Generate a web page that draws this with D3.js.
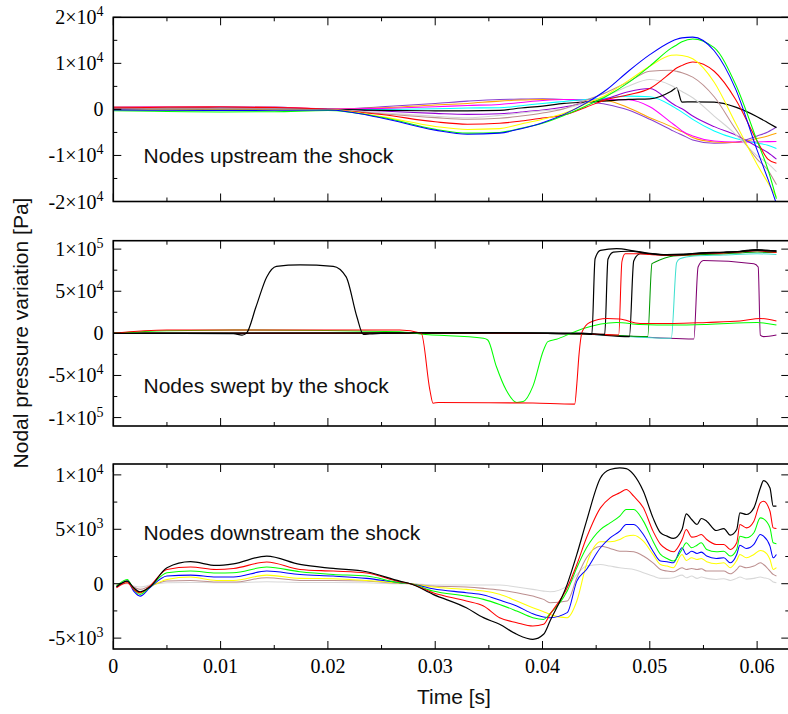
<!DOCTYPE html>
<html><head><meta charset="utf-8">
<script src="https://cdn.jsdelivr.net/npm/d3@7"></script>
<style>body{margin:0;background:#fff}svg{display:block}
.serif{font-family:"Liberation Serif","Times New Roman",Times,serif}
.sans{font-family:"Liberation Sans",Arial,Helvetica,sans-serif}</style>
</head><body>
<svg id="c" width="788" height="714"></svg>
<script>
// ---------- shared ----------
const xTickValues = [0, 0.005, 0.01, 0.015, 0.02, 0.025, 0.03, 0.035, 0.04, 0.045, 0.05, 0.055, 0.06];
const xTickLabels = ["0", "0.01", "0.02", "0.03", "0.04", "0.05", "0.06"];
const xLabelValues = [0, 0.01, 0.02, 0.03, 0.04, 0.05, 0.06];

// ---------- panel 1 : upstream ----------
const upTicks = [-20000, -10000, 0, 10000, 20000];
const tTop = [0, 0.005, 0.01, 0.015, 0.02, 0.025, 0.03, 0.033, 0.036, 0.038, 0.040, 0.042, 0.044, 0.046, 0.048, 0.050, 0.052, 0.0525, 0.053, 0.054, 0.056, 0.058, 0.060, 0.061, 0.0618];
const upMediumPurple = [500, 550, 600, 500, 0, 580, 1300, 1800, 2160, 2230, 2300, 2160, 1730, 1080, -140, -2160, -4460, -5040, -5540, -6620, -7340, -7130, -5760, -4900, -3820];
const upOrange = [500, 550, 550, 450, 100, 360, 940, 1300, 1800, 2020, 2160, 2160, 2090, 1870, 360, -1800, -3740, -4320, -4820, -6120, -7060, -7200, -6340, -5760, -5180];
const upMagenta = [450, 500, 500, 450, 100, 220, 580, 860, 1080, 1510, 1940, 2160, 2160, 2160, 2090, 580, -2880, -3740, -4680, -5760, -6840, -7060, -7060, -7000, -6980];
const upCyan = [300, 350, 350, 300, 0, 0, 140, 300, 360, 790, 1300, 1730, 2160, 2450, 2880, 2740, 860, 140, -580, -2160, -4680, -6340, -7340, -7780, -8500];
const upDarkViolet = [150, 200, 250, 150, 0, -360, -860, -1080, -930, -580, -140, 500, 1440, 2380, 3820, 4530, 1440, 720, 140, -1440, -3740, -5540, -8060, -9360, -10800];
const upBlack = [0, 50, 0, 0, 0, -200, -300, -300, -200, 300, 720, 1300, 1580, 1870, 2160, 2300, 3960, 4680, 1580, 1650, 1580, 500, -1580, -2880, -3960];
const upGray = [50, 100, 100, 100, 0, -720, -1500, -1800, -1300, -790, -290, 140, 1440, 3020, 5040, 6480, 5180, 4530, 3880, 2520, -1440, -5400, -10080, -11740, -13540];
const upBrown = [100, 150, 150, 100, 0, -930, -1790, -2140, -1940, -1440, -790, 140, 1940, 3740, 5980, 8280, 8500, 8270, 7980, 7000, 2740, -4320, -10800, -13180, -16340];
const upRed = [350, 450, 500, 400, 0, -1100, -2700, -3210, -3020, -2520, -1870, -1220, 430, 2160, 3170, 4540, 8060, 8990, 9560, 10300, 8280, 2160, -6840, -10800, -11700];
const upYellow = [-100, -150, -200, -150, -70, -1570, -3700, -4350, -4170, -3170, -2160, -860, 1150, 3240, 6260, 9360, 11740, 11800, 11720, 11000, 5900, -3020, -11950, -15900, -18940];
const upGreen = [-300, -450, -550, -500, -250, -1700, -4300, -5150, -5000, -4100, -3000, -1300, 700, 2900, 5800, 9400, 13300, 14000, 14700, 15300, 13400, 5400, -6830, -13000, -19400];
const upBlue = [-100, -200, -250, -200, -150, -1860, -4500, -5400, -5150, -4180, -2880, -1080, 1300, 4320, 8280, 11880, 14760, 15240, 15530, 15700, 12730, 4400, -8840, -15100, -20500];

// ---------- panel 2 : swept (each series: [time, value] points) ----------
const swTicks = [-100000, -50000, 0, 50000, 100000];
const swPurple = [[0,0],[0.035,300],[0.044,-1000],[0.0541,-6700],[0.0545,78800],[0.055,86600],[0.0597,82700],[0.0601,78800],[0.0603,-2000],[0.0606,-3900],[0.0618,-2000]];
const swCyan = [[0,0],[0.035,300],[0.044,-1000],[0.052,-5900],[0.0525,84000],[0.0528,88600],[0.0541,91800],[0.0569,93000],[0.06,94500],[0.0618,93500]];
const swDarkGreen = [[0,0],[0.035,300],[0.044,-800],[0.0498,-3900],[0.0502,82700],[0.0505,84700],[0.0522,91800],[0.0547,93500],[0.0569,94500],[0.0584,95500],[0.06,96500],[0.0618,96000]];
const swBlackC = [[0,0],[0.035,300],[0.044,-800],[0.0481,-3900],[0.0485,86000],[0.0491,94500],[0.05,94500],[0.0516,93000],[0.0531,93500],[0.0547,95000],[0.0569,96000],[0.0584,97000],[0.06,99000],[0.0609,98500],[0.0618,97500]];
const swRedB = [[0,0],[0.035,300],[0.044,-500],[0.0471,-2000],[0.0474,85000],[0.0477,94500],[0.049,94500],[0.05,93500],[0.0516,92500],[0.0531,93000],[0.0547,94500],[0.0569,95500],[0.0584,96500],[0.06,98000],[0.0609,97000],[0.0618,96000]];
const swBlackB = [[0,0],[0.035,500],[0.044,0],[0.0458,-1200],[0.0461,88000],[0.0466,96500],[0.048,97500],[0.05,94500],[0.0516,93000],[0.0531,93500],[0.0547,95000],[0.0569,96000],[0.0584,97000],[0.06,98500],[0.0609,98000],[0.0618,97500]];
const swGreenA = [[0,0],[0.005,3150],[0.0127,3900],[0.0267,2000],[0.0286,-800],[0.0345,-5900],[0.0349,-7900],[0.0357,-39400],[0.0366,-67000],[0.0376,-82000],[0.0382,-81000],[0.0391,-63000],[0.0401,-19700],[0.0405,-9850],[0.0413,-7000],[0.0429,1400],[0.0438,5700],[0.0469,13000],[0.0491,10600],[0.0522,9850],[0.0553,10600],[0.06,13000],[0.0618,9850]];
const swRedA = [[0,0],[0.005,3900],[0.0267,3900],[0.0287,0],[0.0295,-67000],[0.0298,-83000],[0.0303,-82000],[0.035,-82300],[0.0391,-82800],[0.043,-84000],[0.0432,-60000],[0.0434,-25600],[0.0437,2000],[0.0444,13000],[0.046,17700],[0.0472,17000],[0.0491,11800],[0.0522,11800],[0.0553,13000],[0.0584,14600],[0.0603,17700],[0.0618,14600]];
const swBlackA = [[0,0],[0.0112,-300],[0.012,-2000],[0.0124,0],[0.0133,31500],[0.0143,67000],[0.0152,79600],[0.0174,81200],[0.0205,79600],[0.0217,67000],[0.0227,19700],[0.0233,-1200],[0.0239,-800],[0.0267,500],[0.035,800],[0.0438,0],[0.0446,-1200],[0.0449,88600],[0.0454,98500],[0.0469,100500],[0.0485,98000],[0.05,95000],[0.0516,93500],[0.0531,94000],[0.0547,95500],[0.0569,96500],[0.0584,97500],[0.06,99500],[0.0609,98500],[0.0618,98000]];

// ---------- panel 3 : downstream ----------
const dnTicks = [-5000, 0, 5000, 10000];
const tBot = [0.0003, 0.0013, 0.0019, 0.0025, 0.0034, 0.005, 0.0072, 0.0096, 0.0112, 0.0143, 0.0174, 0.0205, 0.0236, 0.0267, 0.0277, 0.0298, 0.0329, 0.0345,
  0.036, 0.0376, 0.0391, 0.0401, 0.0407, 0.0423, 0.0432, 0.0441, 0.0454, 0.0463, 0.0472, 0.0478, 0.0485, 0.0494, 0.0503, 0.051, 0.0516, 0.0522, 0.053, 0.0534, 0.0539, 0.0544, 0.0548, 0.0553, 0.0562, 0.0569, 0.0575, 0.0581, 0.0584, 0.059, 0.0597, 0.0603, 0.0606, 0.0612, 0.0615, 0.0618];
const dnGray = [-60, 0, -220, -310, -120, 90, 120, 90, 90, 180, 120, 120, 90, 0, 0, -120, -120, -120,
  -120, -310, -520, -680, -740, -220, 850, 1620, 1770, 1620, 1470, 1400, 1310, 1010, 700, 490, 490, 550, 790, 550, 700, 490, 610, 490, 390, 460, 300, 490, 610, 420, 490, 610, 550, 390, 150, 90];
const dnBrown = [-120, 90, -310, -520, -220, 240, 300, 150, 150, 550, 300, 300, 240, 30, 0, -220, -310, -430,
  -580, -830, -1140, -1440, -1750, -1590, 550, 2380, 3450, 3240, 2990, 2990, 2930, 2540, 1920, 1310, 1160, 1100, 1470, 1310, 1400, 1310, 1370, 1160, 1160, 1160, 910, 1310, 1620, 1470, 1620, 1920, 1770, 1160, 850, 700];
const dnYellow = [-220, 180, -520, -830, -310, 390, 610, 300, 300, 790, 490, 460, 300, 60, 0, -310, -520, -680,
  -980, -1590, -2210, -2570, -2820, -3120, -1590, 1770, 3850, 3850, 4060, 4370, 4460, 3910, 2690, 1770, 1620, 1470, 2690, 2140, 2380, 2230, 2320, 2020, 1830, 1920, 1470, 2140, 2690, 2380, 2690, 3060, 2990, 2230, 1310, 1470];
const dnBlue = [-310, 240, -680, -1140, -370, 700, 790, 610, 610, 1160, 850, 700, 490, 90, 0, -460, -830, -1040,
  -1500, -2050, -2760, -3060, -3120, -2660, 240, 1310, 3300, 4220, 4830, 5440, 5440, 4520, 2990, 2080, 2020, 1920, 3300, 2690, 2990, 2780, 2900, 2540, 2320, 2380, 1920, 2690, 3540, 3240, 3610, 4520, 4370, 3450, 2380, 2690];
const dnGreen = [-220, 390, -520, -980, -310, 1010, 1160, 980, 1010, 1530, 1100, 850, 700, 90, 0, -680, -1140, -1440,
  -1900, -2510, -3120, -3280, -2760, -680, 1470, 3300, 4980, 5590, 6210, 6820, 6820, 5750, 3910, 2690, 2320, 2080, 3150, 3760, 3300, 3540, 3760, 3150, 2930, 2990, 2540, 3150, 4370, 4220, 4680, 6050, 5960, 5130, 3760, 3670];
const dnRed = [-370, 90, -520, -830, -220, 1310, 1530, 1310, 1400, 1990, 1310, 1160, 980, 180, 0, -830, -1590, -2050,
  -3120, -3580, -3890, -3730, -2820, -370, 1770, 4220, 6970, 7890, 8350, 8650, 8040, 6970, 4830, 3610, 3150, 2930, 4030, 4980, 4280, 4370, 4520, 4060, 3610, 3610, 3150, 3760, 5440, 5130, 5750, 7430, 7580, 6660, 5130, 5070];
const dnBlack = [-280, 240, -370, -740, -310, 1470, 2020, 1680, 1830, 2540, 1770, 1400, 1100, 240, 0, -980, -2210, -3120,
  -3730, -4650, -5110, -4650, -3430, -60, 2690, 5750, 9720, 10490, 10640, 10580, 10030, 8500, 6050, 4680, 4370, 4160, 4980, 6420, 5900, 5440, 5990, 5750, 4890, 5070, 4460, 4980, 6510, 6360, 6970, 8800, 9480, 8800, 7120, 7120];

// ---------- build ----------
const zip = (t, v) => t.map((d, i) => [d, v[i]]);
const panels = [
  { top: 17.3, bottom: 201.5, domain: [-20000, 20000], minorStep: 5000, ticks: upTicks,
    label: "Nodes upstream the shock", labelY: 162.5,
    series: [
      [zip(tTop, upMediumPurple), "#8a3fd0"], [zip(tTop, upOrange), "#ffa500"], [zip(tTop, upMagenta), "#ff00ff"],
      [zip(tTop, upCyan), "#00ffff"], [zip(tTop, upDarkViolet), "#9400d3"], [zip(tTop, upBlack), "#000000"],
      [zip(tTop, upGray), "#d3d3d3"], [zip(tTop, upBrown), "#bc8f8f"], [zip(tTop, upRed), "#ff0000"],
      [zip(tTop, upYellow), "#ffff00"], [zip(tTop, upGreen), "#00ff00"], [zip(tTop, upBlue), "#0000ff"]
    ] },
  { top: 240.7, bottom: 426, domain: [-110000, 110000], minorStep: 25000, ticks: swTicks,
    label: "Nodes swept by the shock", labelY: 393,
    series: [
      [swPurple, "#800070"], [swCyan, "#40e0d0"], [swDarkGreen, "#009900"], [swBlackC, "#000000"],
      [swRedB, "#ff0000"], [swBlackB, "#000000"], [swGreenA, "#00ff00"], [swRedA, "#ff0000"], [swBlackA, "#000000"]
    ] },
  { top: 464, bottom: 649, domain: [-6000, 11000], minorStep: 2500, ticks: dnTicks,
    label: "Nodes downstream the shock", labelY: 540,
    series: [
      [zip(tBot, dnGray), "#d8d8d8"], [zip(tBot, dnBrown), "#bc8f8f"], [zip(tBot, dnYellow), "#ffff00"],
      [zip(tBot, dnBlue), "#0000ff"], [zip(tBot, dnGreen), "#00ff00"], [zip(tBot, dnRed), "#ff0000"],
      [zip(tBot, dnBlack), "#000000"]
    ] }
];

const svg = d3.select("#c");
const xLeft = 113.3, xRight = 789.3;
const x = d3.scaleLinear().domain([0, 0.063]).range([xLeft, xRight]);

function fmtLabel(sel, v) {
  if (v === 0) { sel.text("0"); return; }
  const e = Math.floor(Math.log10(Math.abs(v)) + 1e-9);
  const m = Math.round(v / Math.pow(10, e));
  sel.append("tspan").text(m + "\u00d710");
  sel.append("tspan").attr("dy", -8).attr("font-size", 14).text(e);
}

panels.forEach((p, pi) => {
  const y = d3.scaleLinear().domain(p.domain).range([p.bottom, p.top]);
  const g = svg.append("g");
  const cid = "clip" + pi;
  svg.append("clipPath").attr("id", cid).append("rect")
    .attr("x", xLeft).attr("y", p.top).attr("width", xRight - xLeft).attr("height", p.bottom - p.top);

  const line = d3.line().x(d => x(d[0])).y(d => y(d[1])).curve(d3.curveMonotoneX);
  const lg = g.append("g").attr("clip-path", `url(#${cid})`);
  p.series.forEach(([pts, col]) => {
    lg.append("path").datum(pts).attr("d", line).attr("fill", "none")
      .attr("stroke", col).attr("stroke-width", col === "#000000" ? 1.2 : 1.05)
      .attr("stroke-linejoin", "round");
  });

  g.append("rect").attr("x", xLeft).attr("y", p.top).attr("width", xRight - xLeft).attr("height", p.bottom - p.top)
    .attr("fill", "none").attr("stroke", "#000").attr("stroke-width", 1.6);

  xTickValues.forEach((t, i) => {
    const len = i % 2 === 0 ? 8 : 4;
    g.append("line").attr("x1", x(t)).attr("x2", x(t)).attr("y1", p.bottom).attr("y2", p.bottom - len)
      .attr("stroke", "#000").attr("stroke-width", 1);
    g.append("line").attr("x1", x(t)).attr("x2", x(t)).attr("y1", p.top).attr("y2", p.top + len)
      .attr("stroke", "#000").attr("stroke-width", 1);
  });

  const minors = d3.range(p.ticks[0], p.ticks[p.ticks.length - 1] + 1, p.minorStep);
  minors.forEach(v => {
    const len = p.ticks.includes(v) ? 8 : 4;
    const yy = y(v);
    g.append("line").attr("x1", xLeft).attr("x2", xLeft + len).attr("y1", yy).attr("y2", yy)
      .attr("stroke", "#000").attr("stroke-width", 1);
    g.append("line").attr("x1", xRight).attr("x2", xRight - len).attr("y1", yy).attr("y2", yy)
      .attr("stroke", "#000").attr("stroke-width", 1);
  });

  p.ticks.forEach(v => {
    const t = g.append("text").attr("class", "serif").attr("x", 103.5).attr("y", y(v) + 7)
      .attr("text-anchor", "end").attr("font-size", 20).attr("fill", "#000");
    fmtLabel(t, v);
  });

  g.append("text").attr("class", "sans").attr("x", 143.5).attr("y", p.labelY)
    .attr("font-size", 21).attr("fill", "#111").text(p.label);
});

xLabelValues.forEach((t, i) => {
  svg.append("text").attr("class", "serif").attr("x", x(t)).attr("y", 673).attr("text-anchor", "middle")
    .attr("font-size", 20).attr("fill", "#000").text(xTickLabels[i]);
});

svg.append("text").attr("class", "sans").attr("x", 454).attr("y", 704).attr("text-anchor", "middle")
  .attr("font-size", 21).attr("fill", "#111").text("Time [s]");
svg.append("text").attr("class", "sans").attr("transform", "translate(28,333) rotate(-90)").attr("text-anchor", "middle")
  .attr("font-size", 21).attr("fill", "#111").text("Nodal pressure variation [Pa]");
</script>
</body></html>
